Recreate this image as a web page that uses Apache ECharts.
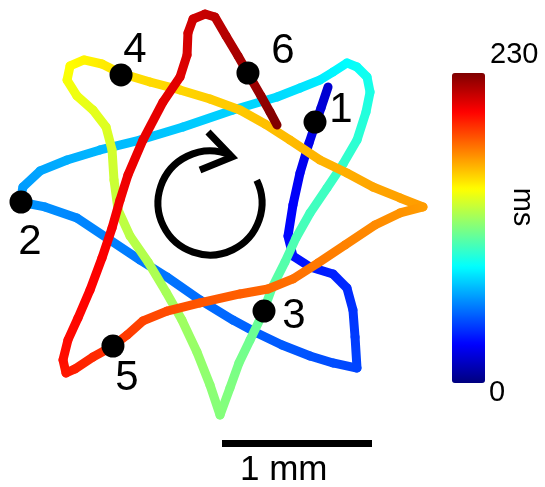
<!DOCTYPE html>
<html>
<head>
<meta charset="utf-8">
<script src="https://cdn.jsdelivr.net/npm/echarts@6/dist/echarts.min.js"></script>
<style>html,body{margin:0;padding:0;background:#fff}#c{width:545px;height:487px}</style>
</head>
<body>
<div id="c"></div>
<script>
// Trajectory (positions in mm, time in ms)
const trajX = [2.187,2.140,2.100,2.060,2.000,1.953,1.920,1.953,2.067,2.220,2.313,2.353,2.367,2.380,
 2.220,2.067,1.880,1.713,1.553,1.333,1.113,0.933,0.733,0.513,0.300,0.133,
 0.153,0.267,0.447,0.667,0.933,1.220,1.553,1.847,2.000,2.133,2.220,2.313,
 2.380,2.447,2.467,2.440,2.380,2.287,2.180,2.067,1.973,1.900,1.813,1.747,1.667,1.593,1.533,1.467,
 1.400,1.313,1.213,1.107,0.987,0.867,0.787,0.760,0.747,0.707,0.620,0.513,0.447,0.467,0.560,0.680,0.800,
 1.000,1.200,1.400,1.600,1.767,1.933,2.133,2.313,2.487,2.667,2.820,
 2.667,2.500,2.300,2.120,1.953,1.787,1.600,1.333,1.113,0.953,0.847,0.753,0.620,0.500,0.440,
 0.420,0.453,0.520,0.600,0.680,0.747,0.800,0.853,0.953,1.087,1.200,1.247,1.253,1.287,1.367,
 1.433,1.507,1.587,1.667,1.740,1.800,1.847];
const trajY = [2.667,2.527,2.413,2.293,2.093,1.880,1.673,1.540,1.467,1.420,1.327,1.180,1.000,0.793,
 0.827,0.873,0.947,1.027,1.113,1.247,1.400,1.513,1.647,1.793,1.867,1.900,
 2.000,2.107,2.180,2.247,2.313,2.400,2.513,2.600,2.660,2.713,2.767,2.827,
 2.800,2.733,2.633,2.500,2.313,2.153,1.993,1.827,1.660,1.500,1.327,1.147,0.980,0.827,0.660,0.480,
 0.680,0.900,1.113,1.300,1.500,1.673,1.847,2.047,2.247,2.400,2.513,2.607,2.713,2.807,2.847,2.820,2.760,
 2.700,2.647,2.587,2.513,2.420,2.313,2.180,2.093,2.000,1.927,1.867,
 1.827,1.747,1.613,1.493,1.387,1.320,1.287,1.227,1.173,1.107,1.013,0.940,0.867,0.787,0.760,
 0.847,0.980,1.127,1.313,1.527,1.727,1.913,2.080,2.313,2.567,2.733,2.880,3.027,3.120,3.153,
 3.133,3.007,2.873,2.733,2.607,2.500,2.413];
const trajT = [18,20,22,24,26,28,30,32,34,36,38,40,42,44,
 46,47,49,50,52,53,55,56,58,59,61,62,
 64,66,68,70,72,74,76,78,80,82,84,86,
 88,90,92,94,96,98,100,101,103,105,107,109,111,113,115,116,
 118,120,122,124,126,128,130,132,134,136,138,140,142,144,146,148,150,
 152,153,155,156,158,159,161,162,164,165,166,
 168,170,172,174,176,178,180,182,184,186,188,190,192,194,196,
 198,199,200,201,202,203,204,205,206,207,208,210,211,212,214,
 216,218,221,223,225,228,230];

// Numbered markers
const markerNames = ['1','2','3','4','5','6'];
const markerX = [2.100,0.140,1.760,0.807,0.753,1.653];
const markerY = [2.433,1.900,1.173,2.747,0.940,2.760];

// Colour scale
const timeMin = 0, timeMax = 230;
const colorbarLabels = ['230','0'];
const colorbarTitle = 'ms';

// Scale bar (mm)
const scaleBarX = [1.48, 2.48];
const scaleBarY = [0.29, 0.29];
const scaleBarLabel = '1 mm';

const labelOffsets = [[26,-12],[9,40],[30,5],[14,-25],[14,32],[35,-22]];

function clamp(v){return Math.max(0,Math.min(1,v));}
function jet(t){
  const v = (t - timeMin)/(timeMax - timeMin);
  const r = clamp(1.5 - Math.abs(4*v-3)), g = clamp(1.5 - Math.abs(4*v-2)), b = clamp(1.5 - Math.abs(4*v-1));
  return 'rgb(' + Math.round(r*255) + ',' + Math.round(g*255) + ',' + Math.round(b*255) + ')';
}
const jetStops = ['#00007F','#0000FF','#007FFF','#00FFFF','#7FFF7F','#FFFF00','#FF7F00','#FF0000','#7F0000'];

const FONT = 'Liberation Sans, Arial, sans-serif';
const chart = echarts.init(document.getElementById('c'), null, {renderer:'canvas'});

const trajData = trajX.map((x,i)=>[x, trajY[i], trajT[i]]);
const markerData = markerX.map((x,i)=>({
  name: markerNames[i], value:[x, markerY[i]],
  label:{offset: labelOffsets[i]}
}));

chart.setOption({
  animation:false,
  backgroundColor:'#fff',
  grid:{left:0,right:0,top:0,bottom:0},
  xAxis:{type:'value',min:0,max:545/150,show:false},
  yAxis:{type:'value',min:0,max:487/150,show:false},
  visualMap:{
    type:'continuous', min:timeMin, max:timeMax, dimension:2, seriesIndex:0,
    left:452, top:73, itemWidth:33, itemHeight:310, padding:0,
    calculable:false, text:null, showLabel:false, hoverLink:false,
    inRange:{color:jetStops}
  },
  graphic:[
    {type:'text', left:490, top:40, style:{text:colorbarLabels[0], font:'29px '+FONT, fill:'#000'}},
    {type:'text', left:489, top:378, style:{text:colorbarLabels[1], font:'29px '+FONT, fill:'#000'}},
    {type:'text', x:522, y:207, rotation:-Math.PI/2,
      style:{text:colorbarTitle, font:'29px '+FONT, fill:'#000', align:'center', verticalAlign:'middle'}},
    {type:'text', x:240, y:470, style:{text:scaleBarLabel, font:'35px '+FONT, fill:'#000', align:'left', verticalAlign:'middle'}},
    {type:'arc', shape:{cx:210, cy:203, r:52, startAngle:-0.454, endAngle:5.11, clockwise:true},
      style:{stroke:'#000', lineWidth:7, fill:null}, z:10},
    {type:'polyline', shape:{points:[[208,132],[232,157],[200,170]]},
      style:{stroke:'#000', lineWidth:7, fill:null, lineJoin:'miter'}, z:10}
  ],
  series:[
    {
      type:'custom', data:trajData, z:2, silent:true,
      renderItem:function(params, api){
        const i = params.dataIndex;
        if(i===0) return null;
        const p0 = api.coord([trajX[i-1], trajY[i-1]]);
        const p1 = api.coord([api.value(0), api.value(1)]);
        const grad = new echarts.graphic.LinearGradient(p0[0],p0[1],p1[0],p1[1],
          [{offset:0,color:jet(trajT[i-1])},{offset:1,color:jet(trajT[i])}], true);
        return {type:'line', shape:{x1:p0[0],y1:p0[1],x2:p1[0],y2:p1[1]},
          style:{stroke:grad, lineWidth:9, lineCap:'round'}};
      }
    },
    {
      type:'line', data:scaleBarX.map((x,i)=>[x, scaleBarY[i]]), symbol:'none', z:3, silent:true,
      lineStyle:{color:'#000', width:7, cap:'butt', opacity:1}
    },
    {
      type:'scatter', data:markerData, symbol:'circle', symbolSize:23, z:5, silent:true,
      itemStyle:{color:'#000', opacity:1},
      label:{show:true, position:'inside', formatter:'{b}', color:'#000', opacity:1, fontSize:42,
        fontFamily:FONT, align:'center', verticalAlign:'middle', textBorderWidth:0}
    }
  ]
});
</script>
</body>
</html>
